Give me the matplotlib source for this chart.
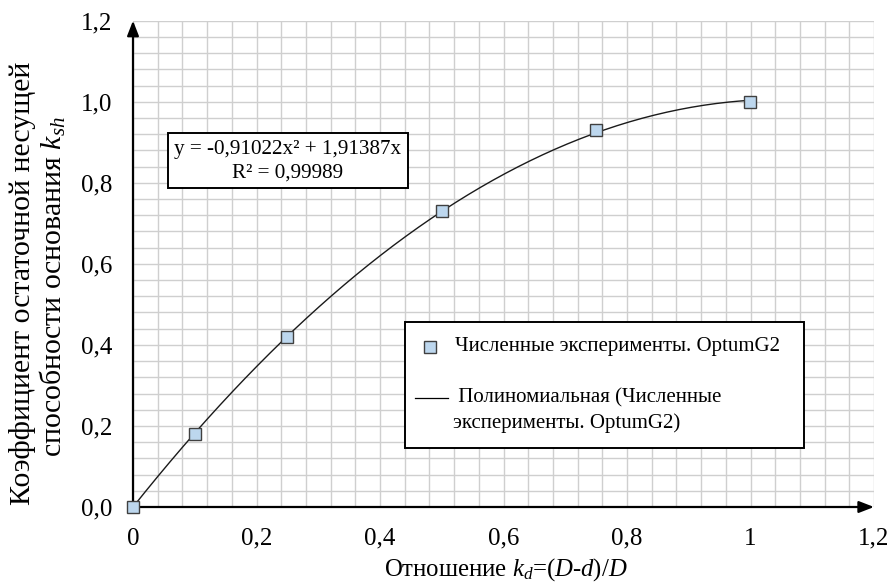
import numpy as np
import matplotlib
matplotlib.use('Agg')
import matplotlib.pyplot as plt
from matplotlib.ticker import MultipleLocator, FuncFormatter
from matplotlib.patches import Rectangle
from matplotlib.lines import Line2D

# data
kd = [0.0, 0.1, 0.25, 0.5, 0.75, 1.0]
ksh = [0.0, 0.18, 0.42, 0.73, 0.93, 1.0]
# trendline coefficients as printed on the chart
coef_a = -0.91022
coef_b = 1.91387
r2_text = '0,99989'

plt.rcParams['font.family'] = ['Liberation Serif', 'DejaVu Serif']
plt.rcParams['mathtext.fontset'] = 'custom'
plt.rcParams['mathtext.rm'] = 'Liberation Serif'
plt.rcParams['mathtext.it'] = 'Liberation Serif:italic'

W, H = 890, 588
fig = plt.figure(figsize=(W / 100, H / 100), dpi=100)


def fx(px):
    return px / W


def fy(py):
    return (H - py) / H


ax = fig.add_axes([fx(133), fy(507), fx(874) - fx(133), fy(20.7) - fy(507)])
ax.set_xlim(0, 1.2)
ax.set_ylim(0, 1.2)

ax.xaxis.set_major_locator(MultipleLocator(0.2))
ax.yaxis.set_major_locator(MultipleLocator(0.2))
ax.xaxis.set_minor_locator(MultipleLocator(0.04))
ax.yaxis.set_minor_locator(MultipleLocator(0.04))
ax.grid(which='both', color='#cfcfcf', linewidth=1.0)
ax.set_axisbelow(True)
ax.tick_params(which='both', length=0, labelsize=18)
ax.tick_params(axis='x', pad=15)
ax.tick_params(axis='y', pad=15)
ax.xaxis.set_major_formatter(FuncFormatter(lambda v, p: ('%g' % round(v, 2)).replace('.', ',')))
ax.yaxis.set_major_formatter(FuncFormatter(lambda v, p: ('%.1f' % v).replace('.', ',')))
for s in ax.spines.values():
    s.set_visible(False)

# axes with arrows
arr = dict(arrowstyle='-|>,head_length=0.9,head_width=0.35', color='black', lw=1.6,
           shrinkA=0, shrinkB=0)
ax.annotate('', xy=(0, 1.0), xytext=(0, 0), xycoords='axes fraction', arrowprops=arr,
            annotation_clip=False)
ax.annotate('', xy=(1.0, 0), xytext=(0, 0), xycoords='axes fraction', arrowprops=arr,
            annotation_clip=False)

xs = np.linspace(0, 1, 200)
ax.plot(xs, coef_a * xs ** 2 + coef_b * xs, color='#1a1a1a', lw=1.0, zorder=3)
ax.plot(kd, ksh, linestyle='none', marker='s', markersize=9, markerfacecolor='#bdd7ee',
        markeredgecolor='#404040', markeredgewidth=1.0, zorder=4, clip_on=False)

# equation box
eq1 = 'y = -%sx² + %sx' % (str(-coef_a).replace('.', ','), str(coef_b).replace('.', ','))
eq2 = 'R² = %s' % r2_text
fig.add_artist(Rectangle((fx(168), fy(188)), fx(408) - fx(168), fy(133) - fy(188),
                         transform=fig.transFigure, fill=True, facecolor='white',
                         edgecolor='black', lw=1.4, zorder=2))
fig.text(fx(288), fy(150), eq1, ha='center', va='center', fontsize=15.2, zorder=3)
fig.text(fx(288), fy(173), eq2, ha='center', va='center', fontsize=15.2, zorder=3)

# legend box drawn by hand
fig.add_artist(Rectangle((fx(405), fy(448)), fx(804) - fx(405), fy(322) - fy(448),
                         transform=fig.transFigure, facecolor='white',
                         edgecolor='black', lw=1.4, zorder=2))
fig.add_artist(Line2D([fx(430)], [fy(347)], transform=fig.transFigure, marker='s',
                      markersize=9, markerfacecolor='#bdd7ee', markeredgecolor='#404040',
                      markeredgewidth=1.0, linestyle='none', zorder=3))
fig.text(fx(455), fy(347), 'Численные эксперименты. OptumG2', fontsize=15,
         va='center', ha='left', zorder=3)
fig.add_artist(Line2D([fx(415), fx(448)], [fy(398), fy(398)], transform=fig.transFigure,
                      color='black', lw=0.9, zorder=3))
fig.text(fx(453), fy(398), ' Полиномиальная (Численные', fontsize=15,
         va='center', ha='left', zorder=3)
fig.text(fx(453), fy(423), 'эксперименты. OptumG2)', fontsize=15,
         va='center', ha='left', zorder=3)

fig.text(fx(23), fy(283), 'Коэффициент остаточной несущей', rotation=90,
         ha='center', va='center', fontsize=21.5)
fig.text(fx(53), fy(287), 'способности основания $k_{sh}$', rotation=90,
         ha='center', va='center', fontsize=21.5)
fig.text(fx(506), fy(570), 'Отношение $k_d$=$(D$-$d)/D$', ha='center', va='center',
         fontsize=17.8)

fig.savefig('out.png', dpi=100)
